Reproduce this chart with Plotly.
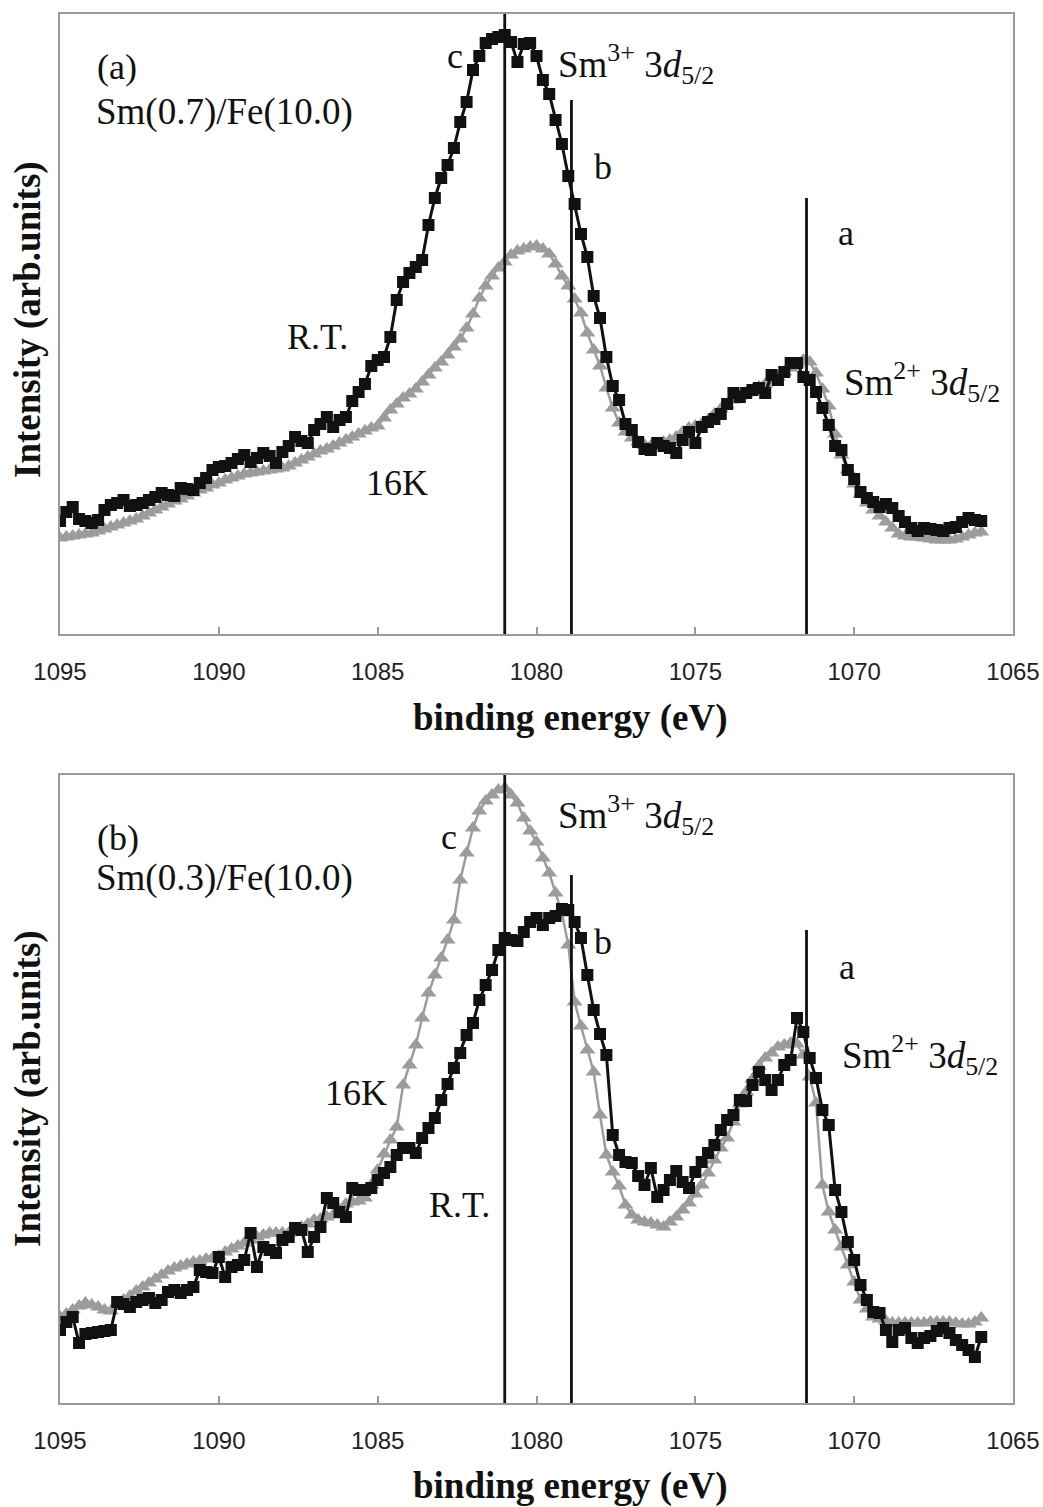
import plotly.graph_objects as go

# ---------------- data ----------------
energy_eV = [
    1095.0, 1094.8, 1094.6, 1094.4, 1094.2, 1094.0, 1093.8, 1093.6, 1093.4, 1093.2,
    1093.0, 1092.8, 1092.6, 1092.4, 1092.2, 1092.0, 1091.8, 1091.6, 1091.4, 1091.2,
    1091.0, 1090.8, 1090.6, 1090.4, 1090.2, 1090.0, 1089.8, 1089.6, 1089.4, 1089.2,
    1089.0, 1088.8, 1088.6, 1088.4, 1088.2, 1088.0, 1087.8, 1087.6, 1087.4, 1087.2,
    1087.0, 1086.8, 1086.6, 1086.4, 1086.2, 1086.0, 1085.8, 1085.6, 1085.4, 1085.2,
    1085.0, 1084.8, 1084.6, 1084.4, 1084.2, 1084.0, 1083.8, 1083.6, 1083.4, 1083.2,
    1083.0, 1082.8, 1082.6, 1082.4, 1082.2, 1082.0, 1081.8, 1081.6, 1081.4, 1081.2,
    1081.0, 1080.8, 1080.6, 1080.4, 1080.2, 1080.0, 1079.8, 1079.6, 1079.4, 1079.2,
    1079.0, 1078.8, 1078.6, 1078.4, 1078.2, 1078.0, 1077.8, 1077.6, 1077.4, 1077.2,
    1077.0, 1076.8, 1076.6, 1076.4, 1076.2, 1076.0, 1075.8, 1075.6, 1075.4, 1075.2,
    1075.0, 1074.8, 1074.6, 1074.4, 1074.2, 1074.0, 1073.8, 1073.6, 1073.4, 1073.2,
    1073.0, 1072.8, 1072.6, 1072.4, 1072.2, 1072.0, 1071.8, 1071.6, 1071.4, 1071.2,
    1071.0, 1070.8, 1070.6, 1070.4, 1070.2, 1070.0, 1069.8, 1069.6, 1069.4, 1069.2,
    1069.0, 1068.8, 1068.6, 1068.4, 1068.2, 1068.0, 1067.8, 1067.6, 1067.4, 1067.2,
    1067.0, 1066.8, 1066.6, 1066.4, 1066.2, 1066.0,
]

# panel (a) Sm(0.7)/Fe(10.0)
a_rt = [
    113, 122, 127, 115, 113, 111, 114, 124, 129, 131,
    134, 128, 129, 131, 134, 137, 141, 139, 138, 146,
    145, 144, 151, 156, 164, 167, 168, 171, 175, 179,
    172, 176, 181, 178, 171, 182, 188, 197, 193, 191,
    204, 210, 217, 207, 214, 217, 233, 242, 250, 268,
    274, 277, 297, 334, 352, 361, 367, 374, 409, 436,
    456, 469, 486, 512, 532, 564, 578, 591, 595, 597,
    599, 592, 572, 590, 591, 578, 554, 540, 514, 490,
    458, 430, 400, 377, 338, 316, 277, 248, 234, 210,
    204, 192, 185, 184, 191, 188, 186, 181, 194, 202,
    191, 207, 212, 215, 220, 230, 241, 237, 241, 244,
    246, 241, 259, 254, 262, 271, 271, 257, 254, 242,
    226, 209, 188, 184, 164, 155, 142, 136, 132, 127,
    130, 126, 118, 112, 106, 103, 106, 105, 104, 103,
    106, 107, 112, 116, 114, 113,
]
a_16k = [
    96, 97, 98, 99, 100, 101, 103, 105, 107, 109,
    111, 113, 115, 118, 121, 124, 127, 130, 133, 135,
    138, 141, 144, 146, 149, 151, 154, 156, 158, 160,
    161, 162, 163, 164, 165, 166, 168, 171, 174, 177,
    180, 183, 185, 188, 191, 194, 197, 200, 203, 206,
    208, 216, 224, 230, 236, 240, 245, 252, 259, 266,
    272, 279, 287, 295, 306, 320, 336, 348, 358, 366,
    372, 379, 383, 385, 387, 388, 385, 380, 370, 358,
    348, 335, 321, 301, 284, 268, 246, 226, 211, 202,
    196, 192, 189, 188, 189, 192, 194, 197, 202, 206,
    208, 210, 214, 220, 225, 229, 234, 238, 241, 244,
    247, 250, 253, 257, 262, 266, 270, 274, 272, 261,
    245, 228, 200, 179, 164, 150, 140, 131, 124, 118,
    112, 106, 100, 98, 97, 97, 96, 95, 94, 94,
    94, 95, 97, 99, 101, 102,
]

# panel (b) Sm(0.3)/Fe(10.0)
b_rt = [
    73, 81, 86, 60, 69, 70, 71, 72, 73, 101,
    99, 96, 101, 103, 105, 100, 103, 111, 113, 110,
    113, 116, 133, 131, 130, 146, 126, 136, 138, 143,
    170, 136, 156, 153, 150, 163, 166, 175, 173, 151,
    166, 176, 205, 200, 191, 186, 215, 213, 213, 215,
    223, 230, 236, 248, 255, 255, 250, 265, 275, 285,
    303, 319, 335, 350, 368, 380, 403, 418, 433, 453,
    465, 463, 462, 471, 481, 485, 478, 485, 487, 494,
    493, 481, 465, 428, 393, 369, 348, 268, 248, 241,
    240, 227, 218, 235, 206, 213, 223, 232, 221, 215,
    231, 241, 250, 258, 273, 283, 288, 303, 302, 318,
    331, 323, 313, 323, 338, 343, 385, 371, 345, 325,
    293, 278, 213, 191, 161, 143, 118, 103, 91, 90,
    73, 61, 73, 75, 65, 60, 65, 67, 72, 75,
    70, 63, 58, 53, 46, 66,
]
b_16k = [
    86, 89, 93, 97, 100, 98, 96, 93, 92, 99,
    103, 107, 112, 116, 120, 124, 128, 132, 135, 137,
    139, 141, 142, 144, 145, 147, 151, 154, 157, 160,
    163, 166, 168, 170, 170, 170, 170, 172, 176, 179,
    183, 184, 186, 188, 193, 199, 201, 202, 205, 218,
    233, 249, 263, 276, 318, 338, 358, 385, 410, 428,
    445, 463, 483, 523, 550, 575, 592, 602, 608, 613,
    615, 608, 600, 585, 572, 561, 545, 530, 510, 490,
    458, 401, 377, 353, 331, 288, 248, 231, 217, 198,
    188, 183, 181, 180, 178, 176, 181, 186, 193, 200,
    209, 218, 230, 243, 255, 265, 281, 299, 311, 324,
    337, 345, 350, 356, 358, 360, 359, 348, 326, 300,
    218, 191, 173, 156, 138, 121, 103, 94, 86, 84,
    82, 80, 80, 80, 80, 80, 80, 81, 81, 81,
    81, 80, 79, 79, 81, 85,
]

# reference lines (a, b, c components) and their heights per panel
line_pos_eV = [1081.0, 1078.9, 1071.5]
line_top_a = [620, 534, 436]
line_top_b = [628, 528, 473]

x_ticks = [1095, 1090, 1085, 1080, 1075, 1070, 1065]

for s in (a_rt, a_16k, b_rt, b_16k):
    if len(s) != len(energy_eV):
        raise ValueError("length mismatch %d vs %d" % (len(s), len(energy_eV)))

# ---------------- figure ----------------
W, H = 1043, 1507
PLOT_L, PLOT_R = 60, 1013    # plot box in page pixels
TOP_A, BOT_A = 14, 634
TOP_B, BOT_B = 775, 1403
L, R, T, B = PLOT_L, W - PLOT_R, TOP_A, H - BOT_B
PW, PH = W - L - R, H - T - B


def paper(Xpx, Ypx):
    return (Xpx - L) / PW, (H - B - Ypx) / PH


BLACK = "#111111"
GRAY = "#9c9c9c"
SERIF = "Liberation Serif, Times New Roman, serif"
SANS = "Liberation Sans, Arial, sans-serif"

fig = go.Figure()


def add_panel(xa, ya, rt, lowT, tops):
    fig.add_trace(go.Scatter(
        x=energy_eV, y=lowT, mode="lines+markers", xaxis=xa, yaxis=ya,
        line=dict(color=GRAY, width=2.5),
        marker=dict(symbol="triangle-up", size=14, color=GRAY),
        showlegend=False, name="16K"))
    fig.add_trace(go.Scatter(
        x=energy_eV, y=rt, mode="lines+markers", xaxis=xa, yaxis=ya,
        line=dict(color=BLACK, width=3),
        marker=dict(symbol="square", size=12, color=BLACK),
        showlegend=False, name="R.T."))
    for xp, top in zip(line_pos_eV, tops):
        fig.add_trace(go.Scatter(
            x=[xp, xp], y=[0, top], mode="lines", xaxis=xa, yaxis=ya,
            line=dict(color=BLACK, width=2.8), showlegend=False,
            hoverinfo="skip"))


add_panel("x", "y", a_rt, a_16k, line_top_a)
add_panel("x2", "y2", b_rt, b_16k, line_top_b)

dom_a = [(H - B - BOT_A) / PH, (H - B - TOP_A) / PH]
dom_b = [(H - B - BOT_B) / PH, (H - B - TOP_B) / PH]
dom_a = [max(0, min(1, v)) for v in dom_a]
dom_b = [max(0, min(1, v)) for v in dom_b]

xcommon = dict(
    range=[1095, 1065], tickmode="array", tickvals=x_ticks,
    ticktext=[str(v) for v in x_ticks],
    ticks="inside", ticklen=7, tickwidth=1.5, tickcolor="#9a9a9a",
    showline=True, linecolor="#9a9a9a", linewidth=1.5, mirror=True,
    showgrid=False, zeroline=False, automargin=False,
    tickfont=dict(family=SANS, size=24, color="#222222"),
    ticklabelstandoff=15,
)
ycommon = dict(
    showline=True, linecolor="#9a9a9a", linewidth=1.5, mirror=True,
    showgrid=False, zeroline=False, showticklabels=False, ticks="",
    automargin=False,
)

fig.update_layout(
    width=W, height=H, autosize=False,
    margin=dict(l=L, r=R, t=T, b=B),
    paper_bgcolor="white", plot_bgcolor="white",
    xaxis=dict(domain=[0, 1], anchor="y", **xcommon),
    yaxis=dict(domain=dom_a, anchor="x", range=[0, 620], **ycommon),
    xaxis2=dict(domain=[0, 1], anchor="y2", **xcommon),
    yaxis2=dict(domain=dom_b, anchor="x2", range=[0, 628], **ycommon),
)

ann = []


def text(Xpx, Ypx, s, size=36, xanchor="center", angle=0):
    px_, py_ = paper(Xpx, Ypx)
    ann.append(dict(
        x=px_, y=py_, xref="paper", yref="paper", text=s, showarrow=False,
        xanchor=xanchor, yanchor="middle", textangle=angle,
        font=dict(family=SERIF, size=size, color="#111111")))


sm3 = "Sm<sup>3+</sup> 3<i>d</i><sub>5/2</sub>"
sm2 = "Sm<sup>2+</sup> 3<i>d</i><sub>5/2</sub>"

# panel (a)
text(95, 67, "(a)", xanchor="left")
text(94, 112, "Sm(0.7)/Fe(10.0)", size=37, xanchor="left")
text(455, 56, "c")
text(556, 64, sm3, size=37, xanchor="left")
text(603, 167, "b")
text(846, 233, "a")
text(317, 337, "R.T.")
text(397, 483, "16K")
text(842, 382, sm2, size=37, xanchor="left")

# panel (b)
text(95, 838, "(b)", xanchor="left")
text(94, 878, "Sm(0.3)/Fe(10.0)", size=37, xanchor="left")
text(449, 837, "c")
text(556, 815, sm3, size=37, xanchor="left")
text(603, 942, "b")
text(847, 967, "a")
text(356, 1093, "16K")
text(840, 1055, sm2, size=37, xanchor="left")
text(459, 1205, "R.T.")

# axis titles
text(570, 718, "<b>binding energy (eV)</b>", size=37)
text(570, 1486, "<b>binding energy (eV)</b>", size=37)
text(28, 320, "<b>Intensity (arb.units)</b>", size=37, angle=-90)
text(28, 1089, "<b>Intensity (arb.units)</b>", size=37, angle=-90)

fig.update_layout(annotations=ann)

fig.write_html(
    "out.html",
    config={"displayModeBar": False, "responsive": False},
    post_script=(
        "document.body.style.margin='0';"
        "document.body.style.overflow='hidden';"
        "var gd=document.getElementById('{plot_id}');"
        "gd.style.width='1043px';gd.style.height='1507px';"
        "Plotly.relayout(gd,{width:1043,height:1507});"
    ),
)
